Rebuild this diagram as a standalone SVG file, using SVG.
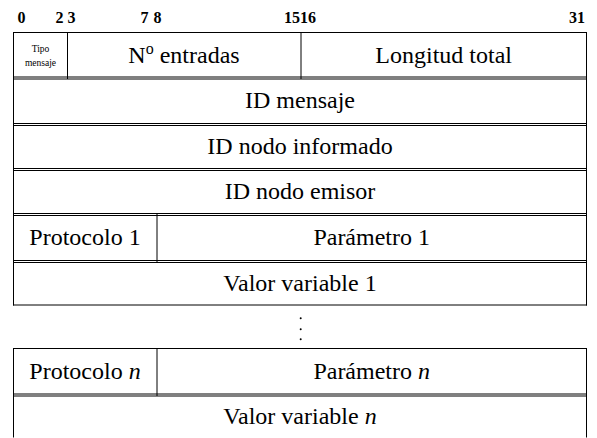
<svg xmlns="http://www.w3.org/2000/svg" width="597" height="438" viewBox="0 0 597 438">
<style>
  .ln { stroke: #000; stroke-width: 1; fill: none; }
  text { font-family: 'Liberation Serif', 'DejaVu Serif', serif; fill: #000; }
  .t { font-size: 24px; text-anchor: middle; }
  .s { font-size: 9.5px; text-anchor: middle; }
  .b { font-size: 16px; font-weight: bold; text-anchor: middle; }
</style>
<rect width="597" height="438" fill="#fff"/>
<g id="bits">
  <text class="b" x="21.5" y="23">0</text>
  <text class="b" x="59.5" y="23">2</text>
  <text class="b" x="71.5" y="23">3</text>
  <text class="b" x="144.5" y="23">7</text>
  <text class="b" x="157.5" y="23">8</text>
  <text class="b" x="300" y="23" style="text-anchor:end">15</text>
  <text class="b" x="300" y="23" style="text-anchor:start">16</text>
  <text class="b" x="585" y="23" style="text-anchor:end">31</text>
</g>
<g id="frame" class="ln">
  <line x1="13.5" y1="32" x2="13.5" y2="305.5"/>
  <line x1="586.5" y1="32" x2="586.5" y2="305.5"/>
  <line x1="13.5" y1="348" x2="13.5" y2="437.5"/>
  <line x1="586.5" y1="348" x2="586.5" y2="437.5"/>
  <line x1="13" y1="32.5" x2="587" y2="32.5"/>
  <line x1="13" y1="77" x2="587" y2="77"/>
  <line x1="13" y1="79" x2="587" y2="79"/>
  <line x1="13" y1="123.5" x2="587" y2="123.5"/>
  <line x1="13" y1="125.5" x2="587" y2="125.5"/>
  <line x1="13" y1="168.5" x2="587" y2="168.5"/>
  <line x1="13" y1="170.5" x2="587" y2="170.5"/>
  <line x1="13" y1="213.5" x2="587" y2="213.5"/>
  <line x1="13" y1="215.5" x2="587" y2="215.5"/>
  <line x1="13" y1="260.5" x2="587" y2="260.5"/>
  <line x1="13" y1="262.5" x2="587" y2="262.5"/>
  <line x1="13" y1="305" x2="587" y2="305"/>
  <line x1="13" y1="348.5" x2="587" y2="348.5"/>
  <line x1="13" y1="394" x2="587" y2="394"/>
  <line x1="13" y1="396" x2="587" y2="396"/>
</g>
<g id="row1">
  <line class="ln" x1="67.5" y1="32" x2="67.5" y2="79"/>
  <line class="ln" x1="301" y1="32" x2="301" y2="79"/>
  <text class="s" x="40.5" y="51.5">Tipo</text>
  <text class="s" x="40.5" y="66">mensaje</text>
  <text class="t" x="184" y="63">N<tspan dy="-9" font-size="16">o</tspan><tspan dy="9"> entradas</tspan></text>
  <text class="t" x="443.7" y="63">Longitud total</text>
</g>
<g id="row2"><text class="t" x="300" y="108">ID mensaje</text></g>
<g id="row3"><text class="t" x="300" y="154">ID nodo informado</text></g>
<g id="row4"><text class="t" x="300" y="199">ID nodo emisor</text></g>
<g id="row5">
  <line class="ln" x1="157" y1="213" x2="157" y2="263"/>
  <text class="t" x="85" y="245">Protocolo 1</text>
  <text class="t" x="371.7" y="245">Parámetro 1</text>
</g>
<g id="row6"><text class="t" x="300" y="291">Valor variable 1</text></g>
<g id="dots" fill="#000">
  <circle cx="300.7" cy="318.3" r="1"/>
  <circle cx="300.7" cy="329.3" r="1"/>
  <circle cx="300.7" cy="339.3" r="1"/>
</g>
<g id="row7">
  <line class="ln" x1="157" y1="348" x2="157" y2="396"/>
  <text class="t" x="85" y="379">Protocolo <tspan font-style="italic">n</tspan></text>
  <text class="t" x="371.7" y="379">Parámetro <tspan font-style="italic">n</tspan></text>
</g>
<g id="row8"><text class="t" x="300" y="424">Valor variable <tspan font-style="italic">n</tspan></text></g>
</svg>
